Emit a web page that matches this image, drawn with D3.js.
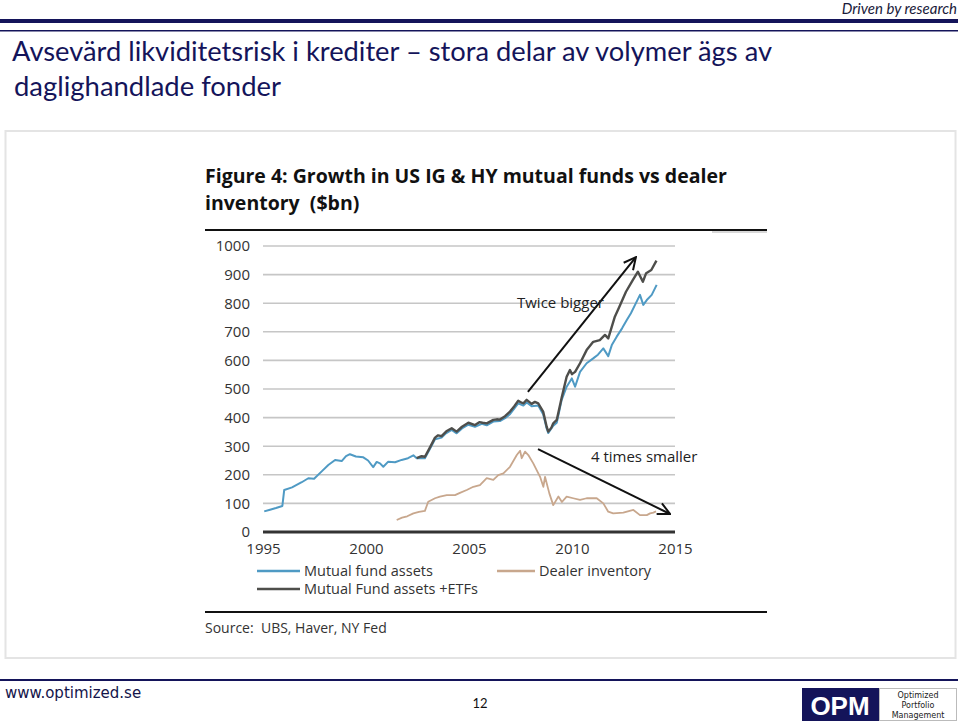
<!DOCTYPE html>
<html><head><meta charset="utf-8">
<script src="https://cdn.jsdelivr.net/npm/d3@7"></script>
<style>html,body{margin:0;padding:0;background:#fff;}svg{display:block;}</style>
</head><body>
<script>
// ---------- DATA ----------
const slideTitle = ["Avsevärd likviditetsrisk i krediter – stora delar av volymer ägs av", "daglighandlade fonder"];
const figureTitle = ["Figure 4: Growth in US IG & HY mutual funds vs dealer", "inventory  ($bn)"];
const yTicks = [0, 100, 200, 300, 400, 500, 600, 700, 800, 900, 1000];
const xTicks = [1995, 2000, 2005, 2010, 2015];
const seriesNames = ["Mutual fund assets", "Dealer inventory", "Mutual Fund assets +ETFs"];

const mfYears = [1995.06,1995.34,1995.63,1995.94,1996.03,1996.41,1996.88,1997.2,1997.48,1997.85,1998.17,1998.5,1998.82,1999.03,1999.22,1999.51,1999.87,2000.1,2000.35,2000.52,2000.68,2000.84,2001.08,2001.41,2001.73,2002.04,2002.3,2002.46,2002.86,2003.1,2003.35,2003.67,2003.88,2004.16,2004.4,2004.66,2004.97,2005.29,2005.62,2005.86,2006.18,2006.5,2006.75,2006.99,2007.39,2007.64,2007.8,2008.04,2008.36,2008.6,2008.77,2008.85,2009.09,2009.26,2009.5,2009.74,2009.99,2010.15,2010.39,2010.71,2011.03,2011.26,2011.52,2011.76,2011.94,2012.17,2012.43,2012.66,2012.86,2013.06,2013.3,2013.46,2013.63,2013.87,2014.11];
const mfValues = [72,78,84,91,147,156,174,188,186,212,234,252,248,265,272,264,261,250,227,245,240,228,246,244,252,258,268,258,258,290,324,330,345,357,345,362,375,368,378,373,386,388,398,412,450,442,453,440,442,412,362,346,372,382,462,508,537,508,560,590,607,620,642,615,655,683,712,741,765,794,829,794,811,829,864];

const etfYears = [2002.46,2002.7,2002.86,2003.1,2003.35,2003.5,2003.67,2003.9,2004.16,2004.4,2004.66,2004.97,2005.29,2005.5,2005.66,2005.86,2006.18,2006.35,2006.5,2006.75,2006.99,2007.2,2007.39,2007.55,2007.64,2007.8,2008.04,2008.2,2008.36,2008.6,2008.77,2008.85,2009.0,2009.09,2009.26,2009.5,2009.74,2009.9,2010.0,2010.15,2010.39,2010.71,2011.03,2011.35,2011.6,2011.76,2012.08,2012.3,2012.62,2012.95,2013.2,2013.44,2013.6,2013.85,2014.1];
const etfValues = [258,265,263,295,330,338,335,352,363,351,368,382,374,384,382,380,392,394,393,405,421,440,459,452,450,462,448,455,450,421,368,351,365,380,392,470,543,566,552,560,590,636,665,671,689,677,753,788,840,881,910,875,905,916,949];

const dealerYears = [2001.49,2001.75,2002.0,2002.3,2002.57,2002.86,2003.02,2003.35,2003.59,2003.92,2004.32,2004.56,2004.89,2005.21,2005.53,2005.86,2006.18,2006.42,2006.67,2006.99,2007.32,2007.48,2007.56,2007.72,2007.88,2008.12,2008.45,2008.61,2008.69,2008.9,2009.09,2009.34,2009.51,2009.74,2010.06,2010.39,2010.71,2011.2,2011.52,2011.76,2012.0,2012.49,2012.98,2013.3,2013.63,2013.79,2013.95,2014.08];
const dealerValues = [42,50,55,65,70,74,106,118,124,129,129,137,147,158,164,188,182,199,205,228,269,284,258,281,269,240,193,158,193,135,94,124,105,124,118,112,118,118,100,71,65,68,77,59,59,65,68,72];

const annotationTexts = ["Twice bigger", "4 times smaller"];
const annotationAt = [[2007.33, 783], [2010.92, 245]];
const arrowFrom = [[2007.86, 490], [2008.35, 290]];
const arrowTo = [[2013.1, 961], [2014.76, 63]];

// ---------- DRAW ----------
const W = 960, H = 725;
const navy = "#14145a";
const svg = d3.select("body").append("svg").attr("width", W).attr("height", H);

// header
svg.append("text").attr("x", 957).attr("y", 14).attr("text-anchor", "end")
  .attr("font-family", "Lato, 'Open Sans', sans-serif").attr("font-style", "italic")
  .attr("font-size", 15).attr("fill", "#1a1a3a").text("Driven by research");
svg.append("rect").attr("x", 0).attr("y", 19).attr("width", 958).attr("height", 4).attr("fill", navy);
svg.append("rect").attr("x", 0).attr("y", 30).attr("width", 958).attr("height", 1.5).attr("fill", navy);

svg.append("text").attr("x", 12).attr("y", 61)
  .attr("font-family", "Lato, sans-serif").attr("font-size", 26).attr("fill", navy)
  .attr("textLength", 760).attr("lengthAdjust", "spacingAndGlyphs").text(slideTitle[0]);
svg.append("text").attr("x", 14).attr("y", 96)
  .attr("font-family", "Lato, sans-serif").attr("font-size", 26).attr("fill", navy)
  .attr("textLength", 267).attr("lengthAdjust", "spacingAndGlyphs").text(slideTitle[1]);

// panel
svg.append("rect").attr("x", 5.5).attr("y", 131).attr("width", 950).attr("height", 527)
  .attr("fill", "#fff").attr("stroke", "#e4e4e4").attr("stroke-width", 2);

const chartFont = "'Open Sans', 'Noto Sans', sans-serif";
// figure title
figureTitle.forEach((t, i) => {
  svg.append("text").attr("x", 205).attr("y", 183 + i * 27)
    .attr("font-family", chartFont).attr("font-weight", "bold").attr("font-size", 19.5)
    .attr("fill", "#111").attr("xml:space", "preserve").style("white-space", "pre").text(t);
});
svg.append("rect").attr("x", 205).attr("y", 229).attr("width", 562).attr("height", 2).attr("fill", "#111");
svg.append("rect").attr("x", 712).attr("y", 231).attr("width", 55).attr("height", 2).attr("fill", "#d8d8d8");

const x = d3.scaleLinear().domain([1995, 2015]).range([263, 675]);
const y = d3.scaleLinear().domain([0, 1000]).range([532, 246]);

// gridlines
const g = svg.append("g");
g.selectAll("line.grid").data(yTicks.filter(d => d > 0)).enter().append("line")
  .attr("x1", x(1995)).attr("x2", x(2015)).attr("y1", d => y(d)).attr("y2", d => y(d))
  .attr("stroke", "#c6c6c6").attr("stroke-width", 1.6);

// y axis labels
const yAxis = d3.axisLeft(y).tickValues(yTicks).tickFormat(d3.format("d")).tickSize(0).tickPadding(0);
const ya = svg.append("g").attr("transform", "translate(250,0)").call(yAxis);
ya.select(".domain").remove();
ya.selectAll("text").attr("font-family", chartFont).attr("font-size", 15).attr("fill", "#333");

// x axis labels
const xAxis = d3.axisBottom(x).tickValues(xTicks).tickFormat(d3.format("d")).tickSize(0).tickPadding(0);
const xa = svg.append("g").attr("transform", "translate(0,543)").call(xAxis);
xa.select(".domain").remove();
xa.selectAll("text").attr("font-family", chartFont).attr("font-size", 15).attr("fill", "#333");

// baseline
svg.append("line").attr("x1", x(1995)).attr("x2", x(2015)).attr("y1", y(0)).attr("y2", y(0))
  .attr("stroke", "#333").attr("stroke-width", 3);

const colors = ["#4f9ac4", "#c8a78d", "#4e4e4b"];
const line = d3.line().x(d => x(d[0])).y(d => y(d[1]));
const mk = (ys, vs) => ys.map((yr, i) => [yr, vs[i]]);

svg.append("path").datum(mk(dealerYears, dealerValues)).attr("d", line)
  .attr("fill", "none").attr("stroke", colors[1]).attr("stroke-width", 1.8).attr("stroke-linejoin", "round");
svg.append("path").datum(mk(mfYears, mfValues)).attr("d", line)
  .attr("fill", "none").attr("stroke", colors[0]).attr("stroke-width", 2).attr("stroke-linejoin", "round");
svg.append("path").datum(mk(etfYears, etfValues)).attr("d", line)
  .attr("fill", "none").attr("stroke", colors[2]).attr("stroke-width", 2.4).attr("stroke-linejoin", "round");

// arrows
svg.append("defs").append("marker").attr("id", "arr")
  .attr("viewBox", "0 0 14 14").attr("refX", 13).attr("refY", 7)
  .attr("markerWidth", 14).attr("markerHeight", 14).attr("markerUnits", "userSpaceOnUse")
  .attr("orient", "auto")
  .append("path").attr("d", "M1,1 L13,7 L1,13").attr("fill", "none").attr("stroke", "#111").attr("stroke-width", 2);
arrowFrom.forEach((f, i) => {
  svg.append("line").attr("x1", x(f[0])).attr("y1", y(f[1]))
    .attr("x2", x(arrowTo[i][0])).attr("y2", y(arrowTo[i][1]))
    .attr("stroke", "#111").attr("stroke-width", 2).attr("marker-end", "url(#arr)");
});
annotationTexts.forEach((t, i) => {
  svg.append("text").attr("x", x(annotationAt[i][0])).attr("y", y(annotationAt[i][1]))
    .attr("font-family", chartFont).attr("font-size", 15).attr("fill", "#222").text(t);
});

// legend
const legend = [
  {name: seriesNames[0], c: colors[0], x1: 257, x2: 300, ly: 571},
  {name: seriesNames[1], c: colors[1], x1: 497, x2: 535, ly: 571},
  {name: seriesNames[2], c: colors[2], x1: 257, x2: 300, ly: 589}
];
legend.forEach(l => {
  svg.append("line").attr("x1", l.x1).attr("x2", l.x2).attr("y1", l.ly).attr("y2", l.ly)
    .attr("stroke", l.c).attr("stroke-width", 2.5);
  svg.append("text").attr("x", l.x2 + 4).attr("y", l.ly + 5)
    .attr("font-family", chartFont).attr("font-size", 14.5).attr("fill", "#333").text(l.name);
});

svg.append("rect").attr("x", 205).attr("y", 611).attr("width", 562).attr("height", 2).attr("fill", "#111");
svg.append("text").attr("x", 205).attr("y", 633)
  .attr("font-family", chartFont).attr("font-size", 14).attr("fill", "#333").attr("xml:space", "preserve")
  .style("white-space", "pre").text("Source:  UBS, Haver, NY Fed");

// footer
svg.append("rect").attr("x", 0).attr("y", 679).attr("width", 958).attr("height", 2).attr("fill", navy);
svg.append("text").attr("x", 5).attr("y", 698)
  .attr("font-family", "'DejaVu Sans', Verdana, sans-serif").attr("font-size", 15).attr("fill", "#14144a")
  .text("www.optimized.se");
svg.append("text").attr("x", 480).attr("y", 708).attr("text-anchor", "middle")
  .attr("font-family", "Lato, sans-serif").attr("font-size", 13).attr("fill", "#111").text("12");

svg.append("rect").attr("x", 802).attr("y", 688).attr("width", 77).attr("height", 33).attr("fill", navy);
svg.append("text").attr("x", 840).attr("y", 715).attr("text-anchor", "middle")
  .attr("font-family", "'Liberation Sans', Arial, sans-serif").attr("font-weight", "bold")
  .attr("font-size", 26).attr("fill", "#fff").text("OPM");
svg.append("rect").attr("x", 879.5).attr("y", 688.5).attr("width", 77).attr("height", 32)
  .attr("fill", "#fff").attr("stroke", "#bbb").attr("stroke-width", 1);
["Optimized", "Portfolio", "Management"].forEach((t, i) => {
  svg.append("text").attr("x", 918).attr("y", 698 + i * 10).attr("text-anchor", "middle")
    .attr("font-family", "'DejaVu Sans', Verdana, sans-serif").attr("font-size", 8).attr("fill", "#222").text(t);
});
</script>
</body></html>
